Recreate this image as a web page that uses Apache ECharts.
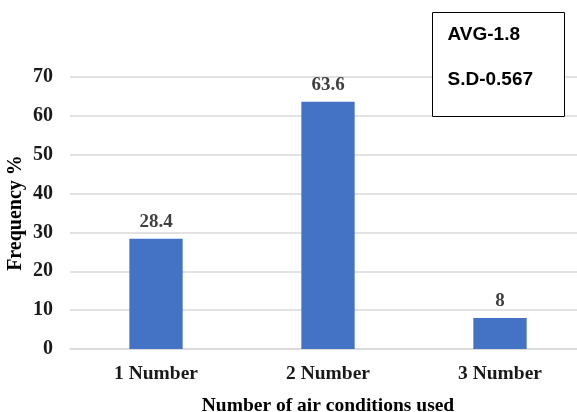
<!DOCTYPE html>
<html>
<head>
<meta charset="utf-8">
<script src="https://cdn.jsdelivr.net/npm/echarts@6/dist/echarts.min.js"></script>
<style>
  html, body { margin: 0; padding: 0; background: #fff; }
  #chart { width: 577px; height: 412px; }
</style>
</head>
<body>
<div id="chart"></div>
<script>
// Share of respondents by number of air conditioners used
const categories = ['1 Number', '2 Number', '3 Number'];
const frequency = [28.4, 63.6, 8];
const yTicks = [0, 10, 20, 30, 40, 50, 60, 70];
const statLines = ['AVG-1.8', 'S.D-0.567'];

const serif = '"Liberation Serif", "Times New Roman", serif';
const sans = '"Liberation Sans", Arial, sans-serif';

const chart = echarts.init(document.getElementById('chart'));
chart.setOption({
  animation: false,
  backgroundColor: '#ffffff',
  grid: {
    left: 70, top: 77, width: 516, height: 272,
    containLabel: false, outerBoundsMode: 'none'
  },
  xAxis: {
    type: 'category',
    data: categories,
    axisTick: { show: false },
    axisLine: { lineStyle: { color: '#d9d9d9', width: 1.5 } },
    axisLabel: {
      fontFamily: serif, fontWeight: 'bold', fontSize: 19.5, color: '#1a1a1a', margin: 15
    },
    name: 'Number of air conditions used',
    nameLocation: 'middle',
    nameGap: 47,
    nameMoveOverlap: false,
    nameTextStyle: {
      fontFamily: serif, fontWeight: 'bold', fontSize: 19.5, color: '#000'
    }
  },
  yAxis: {
    type: 'value',
    min: yTicks[0],
    max: yTicks[yTicks.length - 1],
    interval: 10,
    axisLine: { show: false },
    axisTick: { show: false },
    splitLine: { lineStyle: { color: '#d9d9d9', width: 1.5 } },
    axisLabel: {
      fontFamily: serif, fontWeight: 'bold', fontSize: 20, color: '#1a1a1a', margin: 17
    },
    name: 'Frequency %',
    nameLocation: 'middle',
    nameGap: 44,
    nameMoveOverlap: false,
    nameRotate: 90,
    nameTextStyle: {
      fontFamily: serif, fontWeight: 'bold', fontSize: 20, color: '#000'
    }
  },
  series: [{
    type: 'bar',
    data: frequency,
    barWidth: '31%',
    itemStyle: { color: '#4472c4' },
    label: {
      show: true,
      position: 'top',
      distance: 7,
      fontFamily: serif, fontWeight: 'bold', fontSize: 19, color: '#404040'
    }
  }],
  graphic: [{
    type: 'group',
    left: 432,
    top: 12,
    z: 100,
    children: [
      {
        type: 'rect',
        z: 100,
        shape: { x: 0, y: 0, width: 132, height: 104 },
        style: { fill: '#ffffff', stroke: '#000000', lineWidth: 1 }
      },
      {
        type: 'text',
        z: 101,
        x: 15, y: 22,
        style: {
          text: statLines[0], font: 'bold 19px ' + sans, fill: '#000',
          verticalAlign: 'middle'
        }
      },
      {
        type: 'text',
        z: 101,
        x: 15, y: 67,
        style: {
          text: statLines[1], font: 'bold 19px ' + sans, fill: '#000',
          verticalAlign: 'middle'
        }
      }
    ]
  }]
});
</script>
</body>
</html>
